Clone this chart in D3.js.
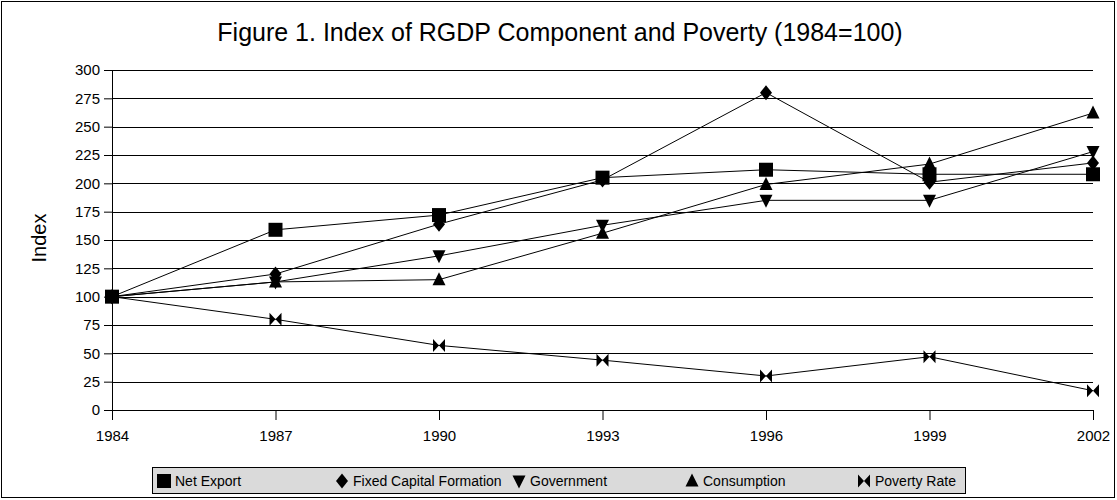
<!DOCTYPE html>
<html>
<head>
<meta charset="utf-8">
<script src="https://cdn.jsdelivr.net/npm/d3@7"></script>
<style>
  body { margin: 0; background: #fff; }
  svg text { font-family: "Liberation Sans", Arial, sans-serif; fill: #000; }
</style>
</head>
<body>
<svg id="chart" width="1117" height="500"></svg>
<script>
// data
const years = ['1984', '1987', '1990', '1993', '1996', '1999', '2002'];
const netExport = [100, 159, 172, 205, 212, 208, 208];
const fixedCapital = [100, 120, 164, 203, 280, 201, 218];
const government = [100, 113, 136, 163, 185, 185, 228];
const consumption = [100, 113, 115, 156, 199, 217, 262];
const povertyRate = [100, 80, 57, 44, 30, 47, 17];
const yTicks = [0, 25, 50, 75, 100, 125, 150, 175, 200, 225, 250, 275, 300];

const series = [
  { name: 'Net Export', values: netExport, shape: 'square' },
  { name: 'Fixed Capital Formation', values: fixedCapital, shape: 'diamond' },
  { name: 'Government', values: government, shape: 'down' },
  { name: 'Consumption', values: consumption, shape: 'up' },
  { name: 'Poverty Rate', values: povertyRate, shape: 'bowtie' }
];

// marker shapes, centred on 0,0
const shapePath = (shape, s) => {
  const h = s / 2;
  switch (shape) {
    case 'square': return `M${-h},${-h}H${h}V${h}H${-h}Z`;
    case 'diamond': return `M0,${-h - 1}L${h - 0.5},0L0,${h + 1}L${-h + 0.5},0Z`;
    case 'down': return `M${-h},${-h + 1}H${h}L0,${h + 1}Z`;
    case 'up': return `M${-h},${h - 1}H${h}L0,${-h - 1}Z`;
    case 'bowtie': return `M${-h + 0.5},${-h}L0,0L${-h + 0.5},${h}Z M${h - 0.5},${-h}L0,0L${h - 0.5},${h}Z`;
  }
};

const svg = d3.select('#chart');
const margin = { top: 70, right: 24, bottom: 90, left: 112 };
const width = 1093 - margin.left;
const height = 410 - margin.top;

// outer frame
svg.append('rect')
  .attr('x', 1.5).attr('y', 1.5)
  .attr('width', 1113).attr('height', 496)
  .attr('fill', 'none').attr('stroke', '#000').attr('stroke-width', 1);

svg.append('text')
  .attr('x', 560).attr('y', 41)
  .attr('text-anchor', 'middle')
  .style('font-size', '25px')
  .text('Figure 1. Index of RGDP Component and Poverty (1984=100)');

const g = svg.append('g').attr('transform', `translate(${margin.left},${margin.top})`);

const x = d3.scalePoint().domain(years).range([0, width]);
const y = d3.scaleLinear().domain([0, 300]).range([height, 0]);

// gridlines
g.append('g')
  .selectAll('line')
  .data(yTicks.filter(d => d > 0))
  .enter().append('line')
    .attr('x1', 0).attr('x2', width)
    .attr('y1', d => Math.round(y(d)) + 0.5)
    .attr('y2', d => Math.round(y(d)) + 0.5)
    .attr('stroke', '#000').attr('stroke-width', 1);

// axes
const yAxis = g.append('g')
  .call(d3.axisLeft(y).tickValues(yTicks).tickSize(8).tickPadding(4));
const xAxis = g.append('g')
  .attr('transform', `translate(0,${height})`)
  .call(d3.axisBottom(x).tickSize(10).tickPadding(10));
[yAxis, xAxis].forEach(a => {
  a.selectAll('path, line').attr('stroke', '#000');
  a.selectAll('text').style('font-size', '15px').attr('fill', '#000');
});

svg.append('text')
  .attr('transform', 'translate(46,238) rotate(-90)')
  .attr('text-anchor', 'middle')
  .style('font-size', '20px')
  .text('Index');

// lines
const line = d3.line()
  .x((d, i) => x(years[i]))
  .y(d => y(d));

series.forEach(s => {
  g.append('path')
    .datum(s.values)
    .attr('d', line)
    .attr('fill', 'none')
    .attr('stroke', '#000')
    .attr('stroke-width', 1);
});

series.forEach(s => {
  g.append('g')
    .selectAll('path')
    .data(s.values)
    .enter().append('path')
      .attr('transform', (d, i) => `translate(${x(years[i])},${y(d)})`)
      .attr('d', shapePath(s.shape, s.shape === 'square' ? 14 : 13))
      .attr('fill', '#000');
});

// legend
const legend = svg.append('g');
legend.append('rect')
  .attr('x', 152.5).attr('y', 467.5)
  .attr('width', 813).attr('height', 26)
  .attr('fill', '#dadada').attr('stroke', '#000').attr('stroke-width', 1);

const legendX = [164, 342, 519, 692, 864];
series.forEach((s, i) => {
  legend.append('path')
    .attr('transform', `translate(${legendX[i]},481)`)
    .attr('d', shapePath(s.shape, s.shape === 'square' ? 14 : 13))
    .attr('fill', '#000');
  legend.append('text')
    .attr('x', legendX[i] + 11).attr('y', 486)
    .style('font-size', '14px')
    .text(s.name);
});
</script>
</body>
</html>
